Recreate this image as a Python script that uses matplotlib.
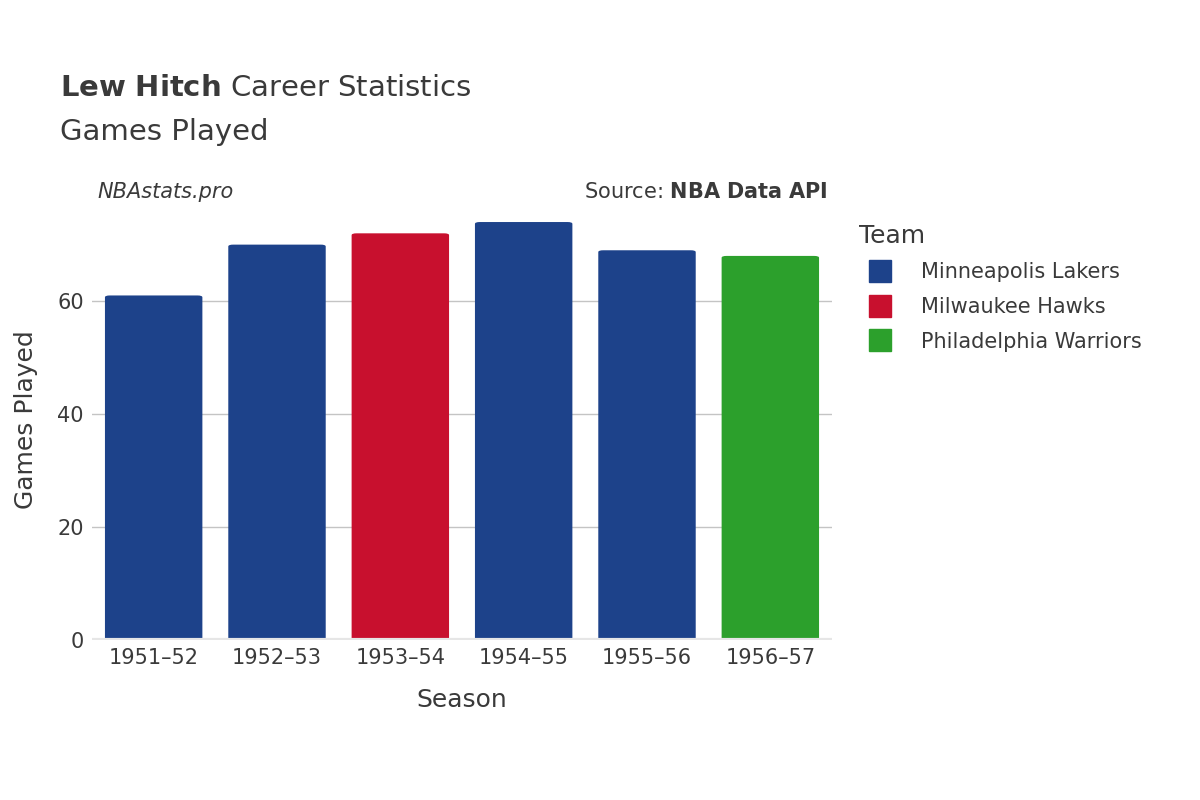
import matplotlib
matplotlib.use("Agg")
import matplotlib.pyplot as plt
from matplotlib.patches import FancyBboxPatch
from matplotlib.lines import Line2D

seasons = ["1951–52", "1952–53", "1953–54", "1954–55", "1955–56", "1956–57"]
games = [61, 70, 72, 74, 69, 68]
teams = ["Minneapolis Lakers", "Minneapolis Lakers", "Milwaukee Hawks",
         "Minneapolis Lakers", "Minneapolis Lakers", "Philadelphia Warriors"]
team_order = ["Minneapolis Lakers", "Milwaukee Hawks", "Philadelphia Warriors"]
team_colors = {"Minneapolis Lakers": "#1d428a", "Milwaukee Hawks": "#c8102e",
               "Philadelphia Warriors": "#2ca02c"}

plt.rcParams["font.family"] = "DejaVu Sans"
fig = plt.figure(figsize=(12, 8), dpi=100)
ax = fig.add_axes([92/1200, 160/800, 740/1200, 440/800])
tc = "#3a3a3a"
w = 0.79
for i, (g, t) in enumerate(zip(games, teams)):
    ax.add_patch(FancyBboxPatch((i - w/2, 0), w, g, boxstyle="round,pad=0,rounding_size=0.04",
                                mutation_aspect=8, fc=team_colors[t], ec="none", zorder=3))
ax.set_xlim(-0.5, len(seasons) - 0.5)
ax.set_ylim(0, 77.9)
ax.set_xticks(range(len(seasons)))
ax.set_xticklabels(seasons)
ax.set_yticks([0, 20, 40, 60])
ax.grid(axis="y", color="#c4c4c4", lw=1, zorder=0)
ax.axhline(0, color="#e6e6e6", lw=3, zorder=4)
for s in ax.spines.values():
    s.set_visible(False)
ax.tick_params(length=0, labelsize=15, colors=tc, pad=6)
ax.set_xlabel("Season", fontsize=18, color=tc, labelpad=14)
ax.set_ylabel("Games Played", fontsize=18, color=tc, labelpad=14)

fig.text(60/1200, 1 - 88/800, r"$\bf{Lew\ Hitch}$ Career Statistics", fontsize=21, color=tc, va="center")
fig.text(60/1200, 1 - 132/800, "Games Played", fontsize=21, color=tc, va="center")
fig.text(97/1200, 1 - 192/800, "NBAstats.pro", fontsize=15, style="italic", color=tc, va="center")
fig.text(828/1200, 1 - 192/800, r"Source: $\bf{NBA\ Data\ API}$", fontsize=15, color=tc, va="center", ha="right")

handles = [Line2D([0], [0], marker="s", ls="none", markersize=16, color=team_colors[t]) for t in team_order]
leg = fig.legend(handles, team_order, title="Team", loc="upper left", bbox_to_anchor=(840/1200, 1 - 205/800),
                 frameon=False, fontsize=15, title_fontsize=18, labelspacing=0.7, handletextpad=1.0)
leg._legend_box.align = "left"
for t in leg.get_texts():
    t.set_color(tc)
leg.get_title().set_color(tc)

fig.savefig("out.png", dpi=100)
